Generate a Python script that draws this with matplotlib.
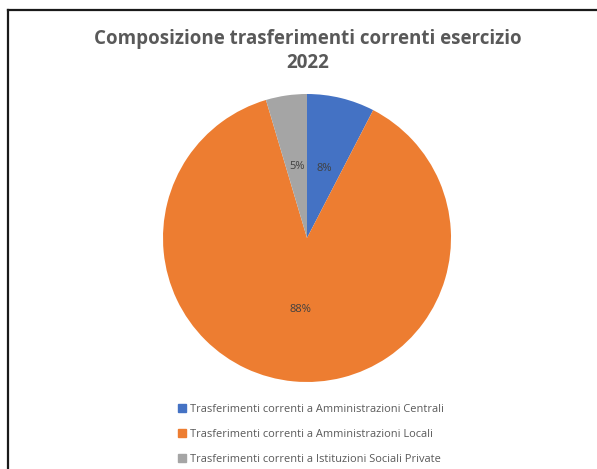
import matplotlib.pyplot as plt
from matplotlib.lines import Line2D

# dati del grafico
categorie = ['Trasferimenti correnti a Amministrazioni Centrali',
             'Trasferimenti correnti a Amministrazioni Locali',
             'Trasferimenti correnti a Istituzioni Sociali Private']
quote = [7.6, 87.8, 4.6]
colori = ['#4472C4', '#ED7D31', '#A5A5A5']
titolo = 'Composizione trasferimenti correnti esercizio\n2022'

W, H = 597, 469
fig = plt.figure(figsize=(W / 100, H / 100), dpi=100)
fig.patch.set_facecolor('white')

# cornice (solo lato sinistro e superiore visibili)
fig.add_artist(Line2D([8 / W, 8 / W], [0, 1 - 10 / H], color='#1a1a1a', lw=1.6))
fig.add_artist(Line2D([8 / W, 1], [1 - 10 / H, 1 - 10 / H], color='#1a1a1a', lw=1.6))

# torta: centro (307, 238), raggio 144 px
cx, cy, r = 307, 238, 144
ax = fig.add_axes([(cx - r) / W, (H - cy - r) / H, 2 * r / W, 2 * r / H])
wedges, testi, pct = ax.pie(quote, colors=colori, startangle=90, counterclock=False,
                            autopct='%.0f%%', pctdistance=0.5,
                            textprops={'color': '#404040', 'fontsize': 8,
                                       'family': 'Open Sans'})
ax.set_xlim(-1, 1)
ax.set_ylim(-1, 1)
ax.set_aspect('equal')
ax.axis('off')

fig.text(0.515, 1 - 51 / H, titolo, ha='center', va='center', fontsize=13.5,
         fontweight='bold', color='#595959', family='Open Sans', linespacing=1.3)

handles = [plt.Rectangle((0, 0), 1, 1, color=c) for c in colori]
fig.legend(handles, categorie, loc='center left', bbox_to_anchor=(168 / W, 1 - 434.5 / H),
           frameon=False, labelcolor='#595959', handlelength=0.7,
           handleheight=0.7, handletextpad=0.4, labelspacing=1.25,
           prop={'family': 'Open Sans', 'size': 7.95})

fig.savefig('out.png', dpi=100, facecolor='white')
